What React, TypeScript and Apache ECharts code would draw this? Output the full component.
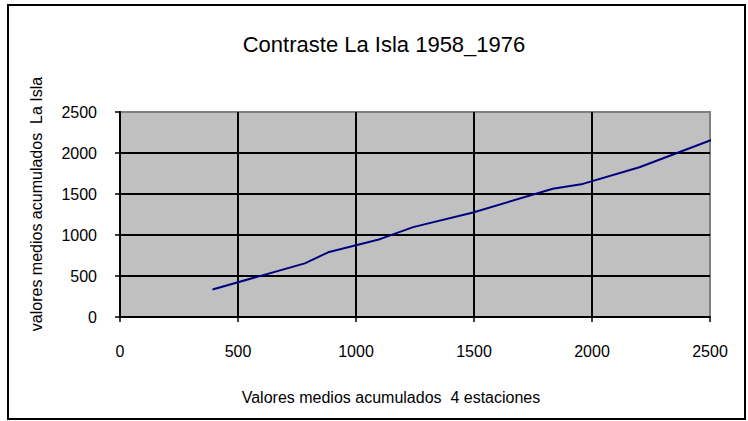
import React, { useEffect, useRef } from "react";
import * as echarts from "echarts";

const titleText = "Contraste La Isla 1958_1976";
const xAxisName = "Valores medios acumulados  4 estaciones";
const yAxisName = "valores medios acumulados  La Isla";

// cumulative values: 4 stations (x) vs La Isla (y)
const xValues = [392, 783, 882, 1101, 1242, 1496, 1834, 1961, 2201, 2512];
const yValues = [336, 654, 789, 949, 1096, 1275, 1565, 1623, 1826, 2165];

const axisTicks = [0, 500, 1000, 1500, 2000, 2500];

export default function App() {
  const ref = useRef<HTMLDivElement>(null);
  useEffect(() => {
    document.body.style.margin = "0";
    if (!ref.current) return;
    const chart = echarts.init(ref.current, undefined, { renderer: "svg" });
    const font = "'Liberation Sans', Arial, sans-serif";
    const fmt = (v: number) => String(v);
    chart.setOption({
      animation: false,
      backgroundColor: "#ffffff",
      textStyle: { fontFamily: font },
      title: {
        text: titleText,
        left: 379,
        top: 28,
        textAlign: "center",
        textStyle: { fontFamily: font, fontSize: 22, fontWeight: "normal", color: "#000" },
      },
      grid: {
        left: 120,
        right: 38,
        top: 112,
        bottom: 104,
        show: true,
        backgroundColor: "#c0c0c0",
        borderColor: "#808080",
        borderWidth: 2,
      },
      xAxis: {
        type: "value",
        min: axisTicks[0],
        max: axisTicks[axisTicks.length - 1],
        interval: 500,
        axisLine: { show: true, lineStyle: { color: "#000", width: 2 } },
        axisTick: { show: true, length: 5, lineStyle: { color: "#000", width: 1.5 } },
        axisLabel: { margin: 26, fontSize: 16, color: "#000", fontFamily: font, formatter: fmt },
        splitLine: { show: true, showMinLine: false, showMaxLine: false, lineStyle: { color: "#000", width: 2 } },
      },
      yAxis: {
        type: "value",
        min: axisTicks[0],
        max: axisTicks[axisTicks.length - 1],
        interval: 500,
        axisLine: { show: true, lineStyle: { color: "#000", width: 2 } },
        axisTick: { show: true, length: 5, lineStyle: { color: "#000", width: 1.5 } },
        axisLabel: { margin: 23, fontSize: 16, color: "#000", fontFamily: font, formatter: fmt },
        splitLine: { show: true, showMinLine: false, showMaxLine: false, lineStyle: { color: "#000", width: 2 } },
      },
      graphic: [
        {
          type: "rect",
          shape: { x: 8, y: 5, width: 737, height: 414 },
          style: { fill: "none", stroke: "#000", lineWidth: 2 },
          silent: true,
          z: -1,
        },
        {
          type: "text",
          x: 36,
          y: 204,
          rotation: Math.PI / 2,
          style: {
            text: yAxisName,
            fontSize: 16,
            fontFamily: font,
            fill: "#000",
            align: "center",
            verticalAlign: "middle",
          },
        },
        {
          type: "text",
          x: 391,
          y: 397,
          style: {
            text: xAxisName,
            fontSize: 16,
            fontFamily: font,
            fill: "#000",
            align: "center",
            verticalAlign: "middle",
          },
        },
      ],
      series: [
        {
          type: "line",
          data: xValues.map((x, i) => [x, yValues[i]]),
          showSymbol: false,
          symbol: "none",
          lineStyle: { color: "#000080", width: 2 },
          z: 5,
        },
      ],
    });
    return () => chart.dispose();
  }, []);
  return <div ref={ref} style={{ width: 748, height: 421 }} />;
}
